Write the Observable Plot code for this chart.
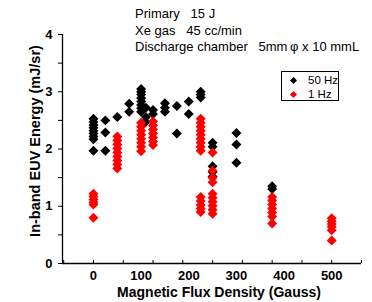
<!DOCTYPE html>
<html><head><meta charset="utf-8">
<script src="https://cdn.jsdelivr.net/npm/d3@7"></script>
<script src="https://cdn.jsdelivr.net/npm/@observablehq/plot@0.6"></script>
<style>
body{margin:0;background:#fff;}
#wrap{position:relative;width:372px;height:302px;}
.note{position:absolute;left:135px;top:6px;font:13px "Liberation Sans",Arial,sans-serif;line-height:16.5px;white-space:pre;color:#000;}
.legend{position:absolute;left:281px;top:71px;width:56px;height:28px;border:1px solid #000;background:#fff;font:11.5px "Liberation Sans",Arial,sans-serif;}
.legend .sw{position:absolute;left:9px;width:5px;height:5px;transform:rotate(45deg);}
.legend .lb{position:absolute;left:26px;line-height:14px;white-space:pre;}
</style>
</head><body>
<div id="wrap"></div>
<script>
// Magnetic flux density columns (Gauss) and energies (mJ/sr)
const hz50Gauss = [0, 25, 50, 75, 100, 110, 125, 150, 175, 200, 225, 250, 300, 375];
const hz50Energy = [
  [2.53, 2.47, 2.42, 2.37, 2.32, 2.27, 2.22, 2.17, 1.97],
  [2.5, 2.29, 1.97],
  [2.56],
  [2.79, 2.65],
  [3.05, 3.0, 2.95, 2.89, 2.83, 2.77, 2.71, 2.65],
  [2.72, 2.56, 2.47],
  [2.68, 2.61],
  [2.8, 2.72, 2.65],
  [2.75, 2.27],
  [2.83, 2.61],
  [3.0, 2.95, 2.9],
  [2.11, 2.04, 1.7, 1.6, 1.52],
  [2.28, 2.08, 1.76],
  [1.35, 1.3]
];
const hz1Gauss = [0, 50, 100, 125, 225, 250, 375, 500];
const hz1Energy = [
  [1.22, 1.17, 1.12, 1.07, 1.03, 0.8],
  [2.22, 2.15, 2.08, 2.01, 1.94, 1.87, 1.8, 1.73, 1.66],
  [2.46, 2.39, 2.32, 2.25, 2.18, 2.11, 2.04, 1.96],
  [2.48, 2.41, 2.34, 2.27, 2.2, 2.13, 2.07],
  [2.53, 2.46, 2.39, 2.32, 2.25, 2.18, 2.11, 2.04, 1.97, 1.16, 1.09, 1.02, 0.96, 0.9],
  [1.94, 1.62, 1.5, 1.42, 1.22, 1.15, 1.08, 1.01, 0.94, 0.87],
  [1.16, 1.1, 1.03, 0.96, 0.89, 0.82, 0.7],
  [0.79, 0.74, 0.69, 0.64, 0.58, 0.4]
];
const xTickLabels = [0, 100, 200, 300, 400, 500];
const yTickLabels = [0, 1, 2, 3, 4];
const xDomain = [-65, 562.5];
const yDomain = [0, 4];
const xMinorTicks = d3.range(-62.5, 563, 62.5);
const yMinorTicks = [0.5, 1.5, 2.5, 3.5];
const xTitle = "Magnetic Flux Density (Gauss)";
const yTitle = "In-band EUV Energy (mJ/sr)";
const noteLines = ["Primary   15 J", "Xe gas   45 cc/min", "Discharge chamber   5mm\u2009\u03c6 x 10 mmL"];
const seriesNames = ["50 Hz", "1 Hz"];
const seriesColors = ["#000000", "#ff0000"];

const flatten = (gs, es) => gs.flatMap((g, i) => es[i].map(e => ({g, e})));
const black = flatten(hz50Gauss, hz50Energy);
const red = flatten(hz1Gauss, hz1Energy);

const bold = {fontWeight: "bold"};
const chart = Plot.plot({
  width: 372, height: 302,
  marginLeft: 62, marginRight: 11, marginTop: 34, marginBottom: 39,
  x: {domain: xDomain},
  y: {domain: yDomain},
  style: {fontFamily: "'Liberation Sans', Arial, sans-serif", background: "white", color: "black"},
  marks: [
    Plot.axisY({ticks: yTickLabels, tickSize: 4, tickPadding: 6, tickFormat: d3.format("d"), fontSize: 13, fontWeight: "bold", label: null}),
    Plot.axisY({ticks: yMinorTicks, tickSize: 4, tickFormat: () => "", label: null}),
    Plot.axisX({ticks: xMinorTicks, tickSize: -3, tickFormat: () => "", label: null}),
    Plot.axisX({ticks: xTickLabels, tickSize: 0, tickPadding: 7, tickFormat: d3.format("d"), fontSize: 13, fontWeight: "bold", label: null}),
    Plot.ruleY([yDomain[0]], {stroke: "black", strokeWidth: 1.3}),
    Plot.ruleX([xDomain[0]], {stroke: "black", strokeWidth: 1.3}),
    Plot.dot(black, {x: "g", y: "e", symbol: "diamond2", r: 4.5, fill: seriesColors[0], stroke: null}),
    Plot.dot(red, {x: "g", y: "e", symbol: "diamond2", r: 4.5, fill: seriesColors[1], stroke: null}),
    Plot.text([xTitle], {frameAnchor: "bottom", lineAnchor: "middle", textAnchor: "middle", dy: 29, dx: 7, fontSize: 14, ...bold}),
    Plot.text([yTitle], {frameAnchor: "left", lineAnchor: "middle", textAnchor: "middle", rotate: -90, dx: -27, dy: -8, fontSize: 14.5, ...bold})
  ]
});
const wrap = document.getElementById("wrap");
wrap.appendChild(chart);

const note = document.createElement("div");
note.className = "note";
note.textContent = noteLines.join("\n");
wrap.appendChild(note);

const legend = document.createElement("div");
legend.className = "legend";
seriesNames.forEach((name, i) => {
  const sw = document.createElement("div");
  sw.className = "sw";
  sw.style.background = seriesColors[i];
  sw.style.top = (6 + i * 14) + "px";
  legend.appendChild(sw);
  const lb = document.createElement("div");
  lb.className = "lb";
  lb.style.top = (1 + i * 14) + "px";
  lb.textContent = name;
  legend.appendChild(lb);
});
wrap.appendChild(legend);
</script>
</body></html>
